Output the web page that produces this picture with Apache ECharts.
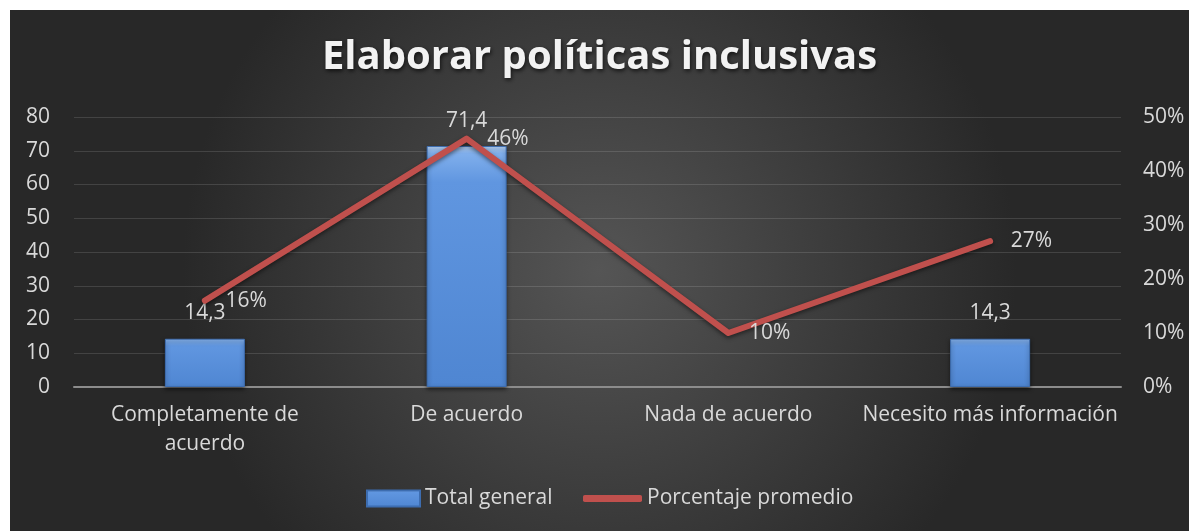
<!DOCTYPE html>
<html>
<head>
<meta charset="utf-8">
<script src="https://cdn.jsdelivr.net/npm/echarts@6/dist/echarts.min.js"></script>
<style>
  html, body { margin: 0; padding: 0; background: #fff; }
  #chart { position: absolute; left: 10px; top: 10px; width: 1179px; height: 521px; }
</style>
</head>
<body>
<div id="chart"></div>
<script>
// datos
var categorias = ['Completamente de\nacuerdo', 'De acuerdo', 'Nada de acuerdo', 'Necesito más información'];
var totalGeneral = [14.3, 71.4, null, 14.3];
var porcentajePromedio = [0.16, 0.46, 0.10, 0.27];
var ejeIzq = { min: 0, max: 80, interval: 10 };
var ejeDer = { min: 0, max: 0.5, interval: 0.1 };

var textColor = '#d9d9d9';
var chart = echarts.init(document.getElementById('chart'));

var option = {
    backgroundColor: {
        type: 'radial', x: 0.5, y: 0.5, r: 0.8,
        colorStops: [
            { offset: 0, color: '#555555' },
            { offset: 1, color: '#282828' }
        ]
    },
    title: {
        text: 'Elaborar políticas inclusivas',
        left: 'center',
        top: 23,
        textStyle: {
            fontFamily: 'Open Sans',
            fontWeight: 'bold',
            fontSize: 40,
            color: '#f2f2f2',
            textShadowColor: 'rgba(0,0,0,0.7)',
            textShadowBlur: 4,
            textShadowOffsetX: 1,
            textShadowOffsetY: 2
        }
    },
    // dos leyendas para que el icono de la línea sea una raya gruesa
    legend: [{
        top: 473,
        left: 351,
        itemWidth: 53,
        itemHeight: 16,
        itemGap: 0,
        textStyle: { color: textColor, fontSize: 21, fontFamily: 'Open Sans' },
        data: [{ name: 'Total general', icon: 'rect' }]
    }, {
        top: 473,
        left: 568,
        itemWidth: 59,
        itemHeight: 7,
        textStyle: { color: textColor, fontSize: 21, fontFamily: 'Open Sans' },
        data: [{ name: 'Porcentaje promedio', icon: 'roundRect' }]
    }],
    grid: { left: 64, right: 68, top: 107, bottom: 144 },
    xAxis: {
        type: 'category',
        data: categorias,
        axisLine: { lineStyle: { color: '#8c8c8c', width: 2 } },
        axisTick: { show: false },
        axisLabel: {
            color: textColor, fontSize: 21, fontFamily: 'Open Sans',
            margin: 14, lineHeight: 29, interval: 0
        }
    },
    yAxis: [{
        type: 'value',
        min: ejeIzq.min, max: ejeIzq.max, interval: ejeIzq.interval,
        axisLine: { show: false },
        axisTick: { show: false },
        axisLabel: { color: textColor, fontSize: 21, fontFamily: 'Open Sans', margin: 24 },
        splitLine: { lineStyle: { color: 'rgba(255,255,255,0.13)', width: 1 } }
    }, {
        type: 'value',
        min: ejeDer.min, max: ejeDer.max, interval: ejeDer.interval,
        axisLine: { show: false },
        axisTick: { show: false },
        splitLine: { show: false },
        axisLabel: {
            color: textColor, fontSize: 21, fontFamily: 'Open Sans', margin: 22,
            formatter: function (v) { return Math.round(v * 100) + '%'; }
        }
    }],
    series: [{
        name: 'Total general',
        type: 'bar',
        barWidth: 80,
        data: totalGeneral,
        itemStyle: {
            color: {
                type: 'linear', x: 0, y: 0, x2: 0, y2: 1,
                colorStops: [
                    { offset: 0, color: '#bcd8fb' },
                    { offset: 0.03, color: '#80afec' },
                    { offset: 0.15, color: '#6096e0' },
                    { offset: 1, color: '#4f86d2' }
                ]
            },
            borderColor: '#3d6db0',
            borderWidth: 1,
            shadowColor: 'rgba(0,0,0,0.5)',
            shadowBlur: 4,
            shadowOffsetY: 2
        },
        label: {
            show: true,
            position: 'top',
            distance: 15,
            color: textColor,
            fontSize: 21,
            fontFamily: 'Open Sans',
            formatter: function (p) { return String(p.value).replace('.', ','); }
        }
    }, {
        name: 'Porcentaje promedio',
        type: 'line',
        yAxisIndex: 1,
        data: porcentajePromedio,
        symbol: 'circle',
        symbolSize: 1,
        showSymbol: true,
        color: '#c0504d',
        lineStyle: {
            color: '#c0504d', width: 6, cap: 'round', join: 'round',
            shadowColor: 'rgba(0,0,0,0.5)', shadowBlur: 4, shadowOffsetY: 2
        },
        label: {
            show: true,
            position: 'right',
            distance: 20,
            color: textColor,
            fontSize: 21,
            fontFamily: 'Open Sans',
            formatter: function (p) { return Math.round(p.value * 100) + '%'; }
        },
        z: 3
    }]
};

chart.setOption(option);
</script>
</body>
</html>
